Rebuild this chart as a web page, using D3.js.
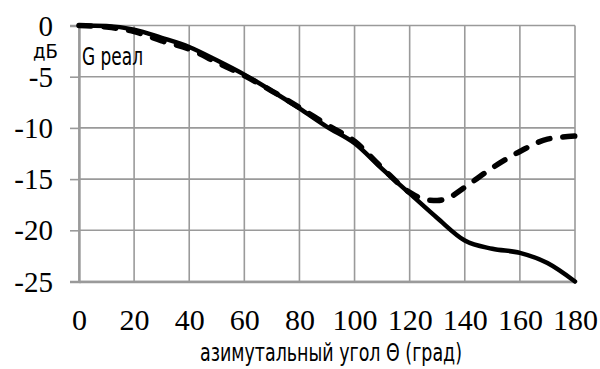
<!DOCTYPE html>
<html>
<head>
<meta charset="utf-8">
<script src="https://cdn.jsdelivr.net/npm/d3@7"></script>
<style>
  html, body { margin: 0; padding: 0; background: #fff; }
  svg { display: block; }
</style>
</head>
<body>
<svg id="chart" width="600" height="369"></svg>
<script>
// Azimuth angle, degrees
const anglesSolid = [0, 10, 20, 30, 40, 50, 60, 70, 80, 90, 100, 110, 120, 130, 140, 150, 160, 170, 180];
// Measured pattern, dB
const gainSolid = [0, -0.05, -0.4, -1.2, -2.1, -3.4, -4.8, -6.4, -8.1, -9.9, -11.5, -14.0, -16.4, -18.8, -21.0, -21.8, -22.2, -23.2, -25.0];

const anglesDashed = [0, 10, 20, 30, 40, 50, 60, 70, 80, 90, 100, 110, 120, 125, 130, 135, 140, 150, 160, 170, 180];
// Real pattern "G реал", dB
const gainDashed = [0, -0.15, -0.6, -1.5, -2.3, -3.6, -4.9, -6.4, -8.0, -9.7, -11.3, -13.9, -16.3, -16.95, -17.1, -16.7, -15.8, -13.9, -12.3, -11.1, -10.8];

const xTicks = [0, 20, 40, 60, 80, 100, 120, 140, 160, 180];
const yTicks = [0, -5, -10, -15, -20, -25];

const svg = d3.select("#chart");
const x = d3.scaleLinear().domain([0, 180]).range([79, 575]);
const y = d3.scaleLinear().domain([-25, 0]).range([281.5, 25.5]);

const gridColor = "#9a9a9a";
const serif = "'Liberation Serif', 'DejaVu Serif', serif";

// grid
const grid = svg.append("g");
grid.selectAll("line.h").data(yTicks).join("line")
  .attr("x1", x(0)).attr("x2", x(180))
  .attr("y1", d => y(d)).attr("y2", d => y(d))
  .attr("stroke", gridColor).attr("stroke-width", 1.6);
grid.selectAll("line.v").data(xTicks).join("line")
  .attr("x1", d => x(d)).attr("x2", d => x(d))
  .attr("y1", y(0)).attr("y2", y(-25))
  .attr("stroke", gridColor).attr("stroke-width", 1.6);

// left axis with outward ticks
const yAxis = svg.append("g")
  .attr("transform", `translate(${x(0)},0)`)
  .call(d3.axisLeft(y).tickValues(yTicks).tickSize(9).tickPadding(17)
    .tickFormat(d => String(d)));
yAxis.select(".domain").attr("stroke", gridColor).attr("stroke-width", 2.4);
yAxis.selectAll(".tick line").attr("stroke", gridColor).attr("stroke-width", 1.6);
yAxis.selectAll(".tick text")
  .attr("font-family", serif).attr("font-size", 29).attr("fill", "#000")
  .attr("dy", "0.33em");

// bottom axis: labels only
const xAxis = svg.append("g")
  .attr("transform", `translate(0,${y(-25)})`)
  .call(d3.axisBottom(x).tickValues(xTicks).tickSize(0));
xAxis.select(".domain").attr("stroke", gridColor).attr("stroke-width", 2.4);
xAxis.selectAll(".tick text")
  .attr("font-family", serif).attr("font-size", 30).attr("fill", "#000")
  .attr("y", 48).attr("dy", 0);

// curves
const line = d3.line().x(d => x(d[0])).y(d => y(d[1])).curve(d3.curveMonotoneX);

svg.append("path")
  .datum(anglesSolid.map((a, i) => [a, gainSolid[i]]))
  .attr("d", line)
  .attr("fill", "none").attr("stroke", "#000").attr("stroke-width", 4.5)
  .attr("stroke-linejoin", "round").attr("stroke-linecap", "round");

svg.append("path")
  .datum(anglesDashed.map((a, i) => [a, gainDashed[i]]))
  .attr("d", line)
  .attr("fill", "none").attr("stroke", "#000").attr("stroke-width", 5.5)
  .attr("stroke-dasharray", "12,13")
  .attr("stroke-linejoin", "round").attr("stroke-linecap", "round");

// labels
const sans = "'DejaVu Sans Condensed', 'DejaVu Sans'";
svg.append("text")
  .attr("x", 33).attr("y", 58)
  .attr("font-family", sans).attr("font-size", 20)
  .attr("textLength", 25).attr("lengthAdjust", "spacingAndGlyphs")
  .text("дБ");

svg.append("text")
  .attr("x", 82).attr("y", 65)
  .attr("font-family", sans).attr("font-size", 24)
  .attr("textLength", 61).attr("lengthAdjust", "spacingAndGlyphs")
  .text("G реал");

svg.append("text")
  .attr("x", 200).attr("y", 361)
  .attr("font-family", sans).attr("font-size", 25)
  .attr("textLength", 262).attr("lengthAdjust", "spacingAndGlyphs")
  .text("азимутальный угол Θ (град)");
</script>
</body>
</html>
